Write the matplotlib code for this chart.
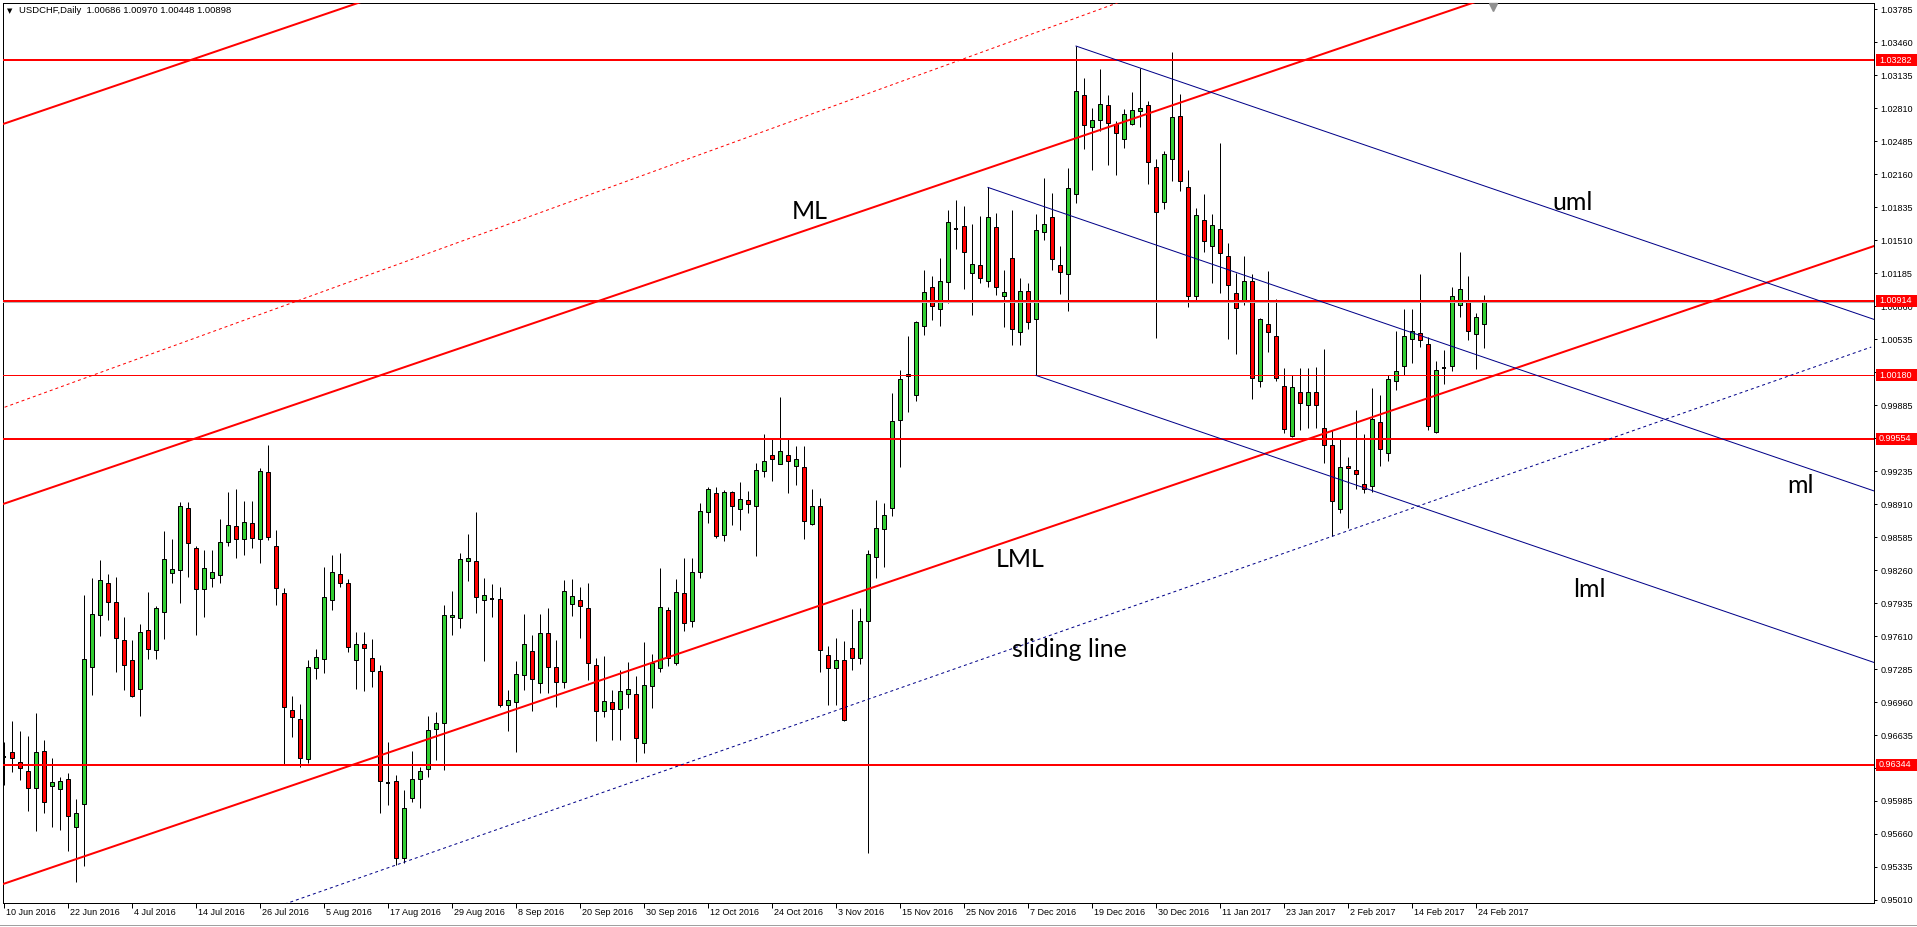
import matplotlib
matplotlib.use("Agg")
import matplotlib.pyplot as plt
import matplotlib.transforms as mtransforms
from matplotlib.patches import Rectangle
from matplotlib.lines import Line2D
import numpy as np

# ---------------- data ----------------
opens = [0.96420, 0.96464, 0.96366, 0.96280, 0.96110, 0.96481, 0.96129, 0.96100, 0.96198, 0.95732,
         0.95952, 0.97302, 0.97814, 0.98129, 0.97942, 0.97568, 0.97371, 0.97085, 0.97666, 0.97469,
         0.97844, 0.98228, 0.98257, 0.98868, 0.98474, 0.98070, 0.98179, 0.98208, 0.98533, 0.98691,
         0.98563, 0.98720, 0.98563, 0.99223, 0.98494, 0.98031, 0.96878, 0.96789, 0.96395, 0.97292,
         0.97381, 0.97962, 0.98218, 0.98129, 0.97371, 0.97528, 0.97390, 0.97262, 0.96166, 0.96182,
         0.95420, 0.96011, 0.96205, 0.96297, 0.96691, 0.96750, 0.97794, 0.97785, 0.98346, 0.98346,
         0.97962, 0.97972, 0.97972, 0.96927, 0.96957, 0.97223, 0.97459, 0.97144, 0.97637, 0.97302,
         0.97154, 0.97922, 0.97962, 0.97883, 0.97322, 0.96868, 0.96957, 0.96888, 0.97036, 0.97036,
         0.96553, 0.97115, 0.97292, 0.97863, 0.97341, 0.98031, 0.97755, 0.98238, 0.98829, 0.99016,
         0.98602, 0.99026, 0.98858, 0.98947, 0.98892, 0.99236, 0.99394, 0.99310, 0.99398, 0.99288,
         0.99275, 0.98717, 0.98892, 0.97419, 0.97296, 0.97371, 0.97489, 0.97397, 0.97762, 0.98387,
         0.98664, 0.98875, 0.99737, 1.00172, 0.99983, 1.00665, 1.01047, 1.00828, 1.01095, 1.01620,
         1.01646, 1.01183, 1.01262, 1.01104, 1.01636, 1.00963, 1.01331, 1.00602, 1.01006, 1.00730,
         1.01587, 1.01735, 1.01262, 1.01173, 1.01962, 1.02937, 1.02622, 1.02691, 1.02838, 1.02651,
         1.02503, 1.02651, 1.02779, 1.02842, 1.02228, 1.01883, 1.02306, 1.02730, 1.02031, 1.00957,
         1.01705, 1.01449, 1.01617, 1.01351, 1.00986, 1.00898, 1.01105, 1.00119, 1.00681, 1.00563,
         1.00070, 0.99577, 1.00011, 0.99883, 1.00011, 0.99663, 0.99489, 0.98858, 0.99282, 0.99242,
         0.99105, 0.99085, 0.99715, 0.99410, 1.00119, 1.00267, 1.00533, 1.00592, 1.00484, 0.99617,
         1.00254, 1.00267, 1.00868, 1.00898, 1.00582, 1.00686]

highs = [0.96569, 0.96773, 0.96675, 0.96625, 0.96849, 0.96586, 0.96405, 0.96225, 0.96264, 0.96005,
         0.98014, 0.98185, 0.98359, 0.98221, 0.98195, 0.97794, 0.97571, 0.97725, 0.98044, 0.97906,
         0.98645, 0.98566, 0.98931, 0.98931, 0.98494, 0.98458, 0.98458, 0.98763, 0.99032, 0.99059,
         0.98941, 0.98941, 0.99266, 0.99492, 0.98655, 0.98080, 0.97019, 0.96941, 0.97374, 0.97479,
         0.98294, 0.98405, 0.98425, 0.98169, 0.97647, 0.97647, 0.97578, 0.97325, 0.96563, 0.96241,
         0.96093, 0.96477, 0.96317, 0.96822, 0.96862, 0.97916, 0.98051, 0.98425, 0.98615, 0.98832,
         0.98179, 0.98123, 0.98097, 0.97078, 0.97364, 0.97827, 0.97620, 0.97827, 0.97886, 0.97568,
         0.98162, 0.98169, 0.98090, 0.98129, 0.97390, 0.97410, 0.97078, 0.97276, 0.97354, 0.97213,
         0.97551, 0.97430, 0.98277, 0.97893, 0.98169, 0.98379, 0.98379, 0.98918, 0.99075, 0.99075,
         0.99046, 0.99036, 0.99124, 0.99036, 0.99319, 0.99596, 0.99552, 0.99970, 0.99565, 0.99486,
         0.99486, 0.99060, 0.98967, 0.97516, 0.97591, 0.97560, 0.97872, 0.97890, 0.98461, 0.98950,
         0.98919, 1.00005, 1.00234, 1.00568, 1.00718, 1.01215, 1.01157, 1.01333, 1.01808, 1.01906,
         1.01847, 1.01669, 1.01748, 1.02030, 1.01778, 1.01216, 1.01807, 1.01134, 1.01088, 1.01768,
         1.02122, 1.01971, 1.01452, 1.02218, 1.03423, 1.03104, 1.02809, 1.03193, 1.02937, 1.02681,
         1.02799, 1.02966, 1.03203, 1.02880, 1.02306, 1.02389, 1.03360, 1.02950, 1.02198, 1.01824,
         1.01962, 1.01765, 1.02467, 1.01479, 1.01190, 1.01354, 1.01173, 1.00740, 1.01206, 1.00927,
         1.00251, 1.00178, 1.00251, 1.00251, 1.00261, 1.00438, 0.99643, 0.99558, 0.99371, 0.99834,
         0.99597, 1.00050, 0.99981, 1.00178, 1.00612, 1.00829, 1.00829, 1.01173, 1.00553, 1.00320,
         1.00428, 1.01045, 1.01390, 1.01157, 1.00789, 1.00970]

lows = [0.96143, 0.96274, 0.96192, 0.95890, 0.95693, 0.95870, 0.95732, 0.95699, 0.95496, 0.95190,
        0.95348, 0.97029, 0.97614, 0.97768, 0.97259, 0.97078, 0.97013, 0.96826, 0.97384, 0.97384,
        0.97581, 0.98133, 0.97939, 0.98195, 0.97624, 0.97801, 0.98097, 0.98133, 0.98494, 0.98382,
        0.98408, 0.98477, 0.98333, 0.98560, 0.97919, 0.96336, 0.96619, 0.96317, 0.96356, 0.97190,
        0.97249, 0.97870, 0.98097, 0.97450, 0.97092, 0.97072, 0.97111, 0.95870, 0.95945, 0.95354,
        0.95371, 0.95972, 0.95919, 0.96225, 0.96389, 0.96290, 0.97624, 0.97693, 0.98156, 0.97834,
        0.97367, 0.97801, 0.96908, 0.96678, 0.96471, 0.97078, 0.96875, 0.97052, 0.97046, 0.96914,
        0.97095, 0.97811, 0.97594, 0.97177, 0.96579, 0.96809, 0.96589, 0.96589, 0.96898, 0.96372,
        0.96455, 0.96898, 0.97253, 0.97312, 0.97322, 0.97656, 0.97696, 0.98179, 0.98720, 0.98573,
        0.98543, 0.98701, 0.98652, 0.98819, 0.98395, 0.99178, 0.99134, 0.99301, 0.99016, 0.99099,
        0.98563, 0.98708, 0.97256, 0.96935, 0.96935, 0.96770, 0.97278, 0.97331, 0.95475, 0.98180,
        0.98294, 0.98796, 0.99271, 0.99820, 0.99926, 1.00577, 1.00726, 1.00660, 1.00895, 1.01423,
        1.01032, 1.00773, 1.01091, 1.01052, 1.00970, 1.00658, 1.00477, 1.00477, 1.00638, 1.00178,
        1.01512, 1.01216, 1.00983, 1.00815, 1.01879, 1.02405, 1.02198, 1.02582, 1.02254, 1.02155,
        1.02415, 1.02641, 1.02628, 1.02060, 1.00550, 1.01814, 1.02090, 1.01991, 1.00848, 1.00917,
        1.01397, 1.01091, 1.00993, 1.00540, 1.00392, 1.00868, 0.99942, 1.00067, 1.00405, 1.00119,
        0.99614, 0.99568, 0.99643, 0.99663, 0.99663, 0.99318, 0.98592, 0.98819, 0.98678, 0.99055,
        0.99016, 0.99026, 0.99282, 0.99338, 1.00031, 1.00178, 1.00297, 1.00454, 0.99643, 0.99614,
        1.00096, 1.00218, 1.00753, 1.00523, 1.00238, 1.00448]

closes = [0.96425, 0.96412, 0.96307, 0.96116, 0.96464, 0.95972, 0.96169, 0.96182, 0.95840, 0.95863,
          0.97381, 0.97824, 0.98159, 0.97949, 0.97587, 0.97322, 0.97023, 0.97647, 0.97479, 0.97883,
          0.98366, 0.98267, 0.98888, 0.98523, 0.98070, 0.98277, 0.98238, 0.98533, 0.98701, 0.98563,
          0.98730, 0.98573, 0.99233, 0.98583, 0.98080, 0.96908, 0.96809, 0.96405, 0.97302, 0.97400,
          0.97991, 0.98238, 0.98129, 0.97499, 0.97528, 0.97489, 0.97262, 0.96182, 0.96170, 0.95420,
          0.95913, 0.96198, 0.96277, 0.96681, 0.96750, 0.97814, 0.97814, 0.98366, 0.98376, 0.97991,
          0.98011, 0.97972, 0.96927, 0.96977, 0.97233, 0.97528, 0.97184, 0.97637, 0.97302, 0.97154,
          0.98051, 0.98001, 0.97903, 0.97341, 0.96868, 0.96967, 0.96888, 0.97065, 0.97085, 0.96602,
          0.97124, 0.97341, 0.97893, 0.97390, 0.98041, 0.97735, 0.98238, 0.98839, 0.99055, 0.98592,
          0.99026, 0.98888, 0.98957, 0.98908, 0.99244, 0.99332, 0.99350, 0.99433, 0.99332, 0.99359,
          0.98739, 0.98892, 0.97472, 0.97300, 0.97371, 0.96781, 0.97397, 0.97758, 0.98422, 0.98673,
          0.98800, 0.99724, 1.00146, 1.00190, 1.00704, 1.00999, 1.00858, 1.01109, 1.01686, 1.01620,
          1.01390, 1.01272, 1.01134, 1.01735, 1.01045, 1.00996, 1.00631, 1.01006, 1.00707, 1.01607,
          1.01666, 1.01321, 1.01193, 1.02021, 1.02976, 1.02641, 1.02691, 1.02848, 1.02661, 1.02562,
          1.02750, 1.02789, 1.02809, 1.02277, 1.01784, 1.02356, 1.02720, 1.02090, 1.00957, 1.01755,
          1.01499, 1.01656, 1.01380, 1.01065, 1.00838, 1.01105, 1.00149, 1.00730, 1.00602, 1.00149,
          0.99646, 1.00060, 0.99903, 1.00011, 0.99883, 0.99489, 0.98937, 0.99272, 0.99262, 0.99203,
          0.99055, 0.99745, 0.99449, 1.00139, 1.00218, 1.00563, 1.00612, 1.00523, 0.99676, 1.00228,
          1.00254, 1.00957, 1.01026, 1.00612, 1.00750, 1.00898]

symbol = "USDCHF,Daily"
date_labels = ["10 Jun 2016", "22 Jun 2016", "4 Jul 2016", "14 Jul 2016", "26 Jul 2016",
               "5 Aug 2016", "17 Aug 2016", "29 Aug 2016", "8 Sep 2016", "20 Sep 2016",
               "30 Sep 2016", "12 Oct 2016", "24 Oct 2016", "3 Nov 2016", "15 Nov 2016",
               "25 Nov 2016", "7 Dec 2016", "19 Dec 2016", "30 Dec 2016", "11 Jan 2017",
               "23 Jan 2017", "2 Feb 2017", "14 Feb 2017", "24 Feb 2017"]
date_label_step = 8

y_tick_values = [1.03785, 1.03460, 1.03135, 1.02810, 1.02485, 1.02160, 1.01835, 1.01510,
                 1.01185, 1.00860, 1.00535, 1.00210, 0.99885, 0.99560, 0.99235, 0.98910,
                 0.98585, 0.98260, 0.97935, 0.97610, 0.97285, 0.96960, 0.96635, 0.96310,
                 0.95985, 0.95660, 0.95335, 0.95010]

level_lines = [1.03282, 1.00914, 1.00180, 0.99554, 0.96344]
level_thick = [True, True, False, True, True]

# red Andrews pitchfork (pivots off-screen): median line by two points + half width
red_ml_points = [(0, 0.98914), (180, 1.03752)]
red_fork_halfwidth = 0.03744
# red dotted trend line
red_trend_points = [(0, 0.99862), (125, 1.03442)]
# blue pitchfork pivots (bar indices): pivot1 high, pivot2 high, pivot3 low
blue_pivots = (123, 134, 129)
# sliding line through two lows (bar indices)
sliding_bars = (49, 166)

# ---------------- figure ----------------
W, H = 1917, 927
DPI = 100
fig = plt.figure(figsize=(W / DPI, H / DPI), dpi=DPI, facecolor="white")
AX_L, AX_R, AX_T, AX_B = 3, 1874, 3, 903
ax = fig.add_axes([AX_L / W, 1 - AX_B / H, (AX_R - AX_L) / W, (AX_B - AX_T) / H])
ax.set_facecolor("white")

XMIN, XMAX = -0.125, 233.75
YMIN, YMAX = 0.949799, 1.038471
ax.set_xlim(XMIN, XMAX)
ax.set_ylim(YMIN, YMAX)

PX = 0.72  # one pixel in points
TICK_FONT = "Liberation Sans"

o = np.array(opens); h = np.array(highs); l = np.array(lows); c = np.array(closes)
x = np.arange(len(o))

# candles
ax.vlines(x, l, h, color="black", lw=PX, zorder=2)
doji = np.abs(c - o) < 0.00006
up = (c > o) & ~doji
dn = (c < o) & ~doji
BW = 0.56
ax.bar(x[up], (c - o)[up], bottom=o[up], width=BW, color="#32CD32", edgecolor="black",
       linewidth=PX, zorder=3)
ax.bar(x[dn], (o - c)[dn], bottom=c[dn], width=BW, color="#FF0000", edgecolor="black",
       linewidth=PX, zorder=3)
ax.hlines(o[doji], x[doji] - BW / 2, x[doji] + BW / 2, color="black", lw=1.4, zorder=3)

# horizontal levels
for lev, thick in zip(level_lines, level_thick):
    ax.axhline(lev, color="#FF0000", lw=2 * PX if thick else PX, zorder=6)
# bid line
ax.axhline(closes[-1], color="#B4B4B4", lw=PX, zorder=5)

xs = np.array([-2.0, 240.0])

def line_vals(p1, p2, xv):
    slope = (p2[1] - p1[1]) / (p2[0] - p1[0])
    return p1[1] + slope * (xv - p1[0]), slope

# red pitchfork
ml_y, _ = line_vals(red_ml_points[0], red_ml_points[1], xs)
for off in (0.0, red_fork_halfwidth, -red_fork_halfwidth):
    ax.plot(xs, ml_y + off, color="#FF0000", lw=2 * PX, zorder=6, solid_capstyle="butt")
# red dotted line
rt_y, _ = line_vals(red_trend_points[0], red_trend_points[1], xs)
ax.plot(xs, rt_y, color="#FF0000", lw=PX, ls=(0, (3, 3)), zorder=6)

# blue pitchfork
b1, b2, b3 = blue_pivots
P1 = (b1, highs[b1]); P2 = (b2, highs[b2]); P3 = (b3, lows[b3])
mid = ((P2[0] + P3[0]) / 2, (P2[1] + P3[1]) / 2)
_, bslope = line_vals(P1, mid, xs)
NAVY = "#000088"
for P in (P1, P2, P3):
    xe = np.array([P[0], 240.0])
    ax.plot(xe, P[1] + bslope * (xe - P[0]), color=NAVY, lw=PX, zorder=6)

# sliding line
s1, s2 = sliding_bars
sl_y, _ = line_vals((s1, lows[s1]), (s2, lows[s2]), np.array([-2.0, 233.4]))
ax.plot([-2.0, 233.4], sl_y, color=NAVY, lw=PX, ls=(0, (3, 3)), zorder=6)

# text annotations
ANN_FONT = ["Lato", "DejaVu Sans"]
ann = [("ML", 98.5, 1.01716), ("LML", 124.0, 0.98290), ("sliding line", 126.0, 0.97404),
       ("uml", 193.6, 1.01808), ("ml", 222.9, 0.99017), ("lml", 196.1, 0.97992)]
for txt, ax_x, ax_y in ann:
    ax.text(ax_x, ax_y, txt, fontsize=18, family=ANN_FONT, color="black",
            ha="left", va="baseline", zorder=8)

# axes styling
for sp in ax.spines.values():
    sp.set_color("black")
    sp.set_linewidth(PX)
ax.yaxis.tick_right()
ax.set_yticks(y_tick_values)
ax.set_yticklabels([f"{v:.5f}" for v in y_tick_values], fontsize=6.5, family=TICK_FONT)
ax.tick_params(axis="y", length=2.4, width=PX, pad=2.2, colors="black")
ax.set_xticks(np.arange(len(date_labels)) * date_label_step)
ax.set_xticklabels(date_labels, fontsize=6.5, family=TICK_FONT)
ax.tick_params(axis="x", length=3.6, width=PX, pad=0.3, colors="black")
offset = mtransforms.ScaledTranslation(1.5 / DPI, 0, fig.dpi_scale_trans)
for lbl in ax.get_xticklabels():
    lbl.set_ha("left")
    lbl.set_transform(lbl.get_transform() + offset)

# price label boxes on the right axis
bt = mtransforms.blended_transform_factory(ax.transAxes, ax.transData)
AXW = AX_R - AX_L
box_x0 = (1876 - AX_L) / AXW
box_w = (1917 - 1876) / AXW
box_h = 12 / 10150
for lev in level_lines:
    ax.add_patch(Rectangle((box_x0, lev - box_h / 2), box_w, box_h, transform=bt,
                           facecolor="#FF0000", edgecolor="none", clip_on=False, zorder=20))
    ax.text((1879 - AX_L) / AXW, lev, f"{lev:.5f}", transform=bt, color="white",
            fontsize=6.5, family=TICK_FONT, ha="left", va="center", clip_on=False, zorder=21)

# chart shift marker
ax.plot([(1493 - 4) / 8], [1 - 4 / 900], marker="v", markersize=6, color="#909090",
        transform=mtransforms.blended_transform_factory(ax.transData, ax.transAxes),
        clip_on=False, zorder=9)

# header
header = f"{symbol}  {opens[-1]:.5f} {highs[-1]:.5f} {lows[-1]:.5f} {closes[-1]:.5f}"
fig.text(7 / W, 1 - 11 / H, "\u25BC", fontsize=5, family="DejaVu Sans", va="center", ha="left")
fig.text(19 / W, 1 - 10.5 / H, header, fontsize=6.8, family=TICK_FONT, va="center", ha="left")

# bottom window border
fig.add_artist(Line2D([0, 1], [1 - 925 / H, 1 - 925 / H], color="#A0A0A0", lw=PX,
                      transform=fig.transFigure))

fig.savefig("out.png", dpi=DPI, facecolor="white")
